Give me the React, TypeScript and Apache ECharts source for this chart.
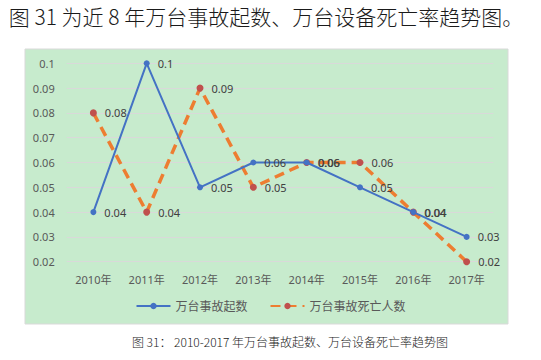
import React, { useEffect, useRef } from "react";
import * as echarts from "echarts";

const categories = ["2010年", "2011年", "2012年", "2013年", "2014年", "2015年", "2016年", "2017年"];
const accidentRate = [0.04, 0.1, 0.05, 0.06, 0.06, 0.05, 0.04, 0.03];
const deathRate = [0.08, 0.04, 0.09, 0.05, 0.06, 0.06, 0.04, 0.02];
const seriesNames = ["万台事故起数", "万台事故死亡人数"];
const titleText = "图 31 为近 8 年万台事故起数、万台设备死亡率趋势图。";
const captionText = "图 31： 2010-2017 年万台事故起数、万台设备死亡率趋势图";

const FONT = "'Noto Sans', 'Noto Sans CJK SC', sans-serif";

export default function App() {
  const ref = useRef<HTMLDivElement>(null);
  useEffect(() => {
    if (!ref.current) return;
    const chart = echarts.init(ref.current, null, { renderer: "svg" });
    const fmt = (v: number) => String(parseFloat(Number(v).toFixed(2)));
    chart.setOption({
      animation: false,
      backgroundColor: "#ffffff",
      textStyle: { fontFamily: FONT },
      graphic: [
        {
          type: "rect",
          z: -10,
          shape: { x: 25, y: 49, width: 483, height: 275 },
          style: { fill: "#C7EBCD", stroke: "#D9D9D9", lineWidth: 1 },
        },
        {
          type: "text",
          x: 266,
          y: 16,
          style: {
            text: titleText,
            fontSize: 21,
            fontWeight: 300,
            fontFamily: "'Noto Sans CJK SC', serif",
            fill: "#1a1a1a",
            textAlign: "center",
            textVerticalAlign: "middle",
          },
        },
        {
          type: "text",
          x: 290,
          y: 341,
          style: {
            text: captionText,
            fontSize: 12,
            fontWeight: 300,
            fontFamily: "'Noto Sans CJK SC', sans-serif",
            fill: "#1a1a1a",
            textAlign: "center",
            textVerticalAlign: "middle",
          },
        },
      ],
      grid: { left: 66.7, right: 47.7, top: 63.3, bottom: 98.3 },
      legend: {
        data: seriesNames,
        top: 295,
        left: "center",
        itemWidth: 34,
        itemHeight: 8,
        itemGap: 22,
        textStyle: { fontSize: 12, color: "#595959", fontFamily: FONT },
      },
      xAxis: {
        type: "category",
        data: categories,
        boundaryGap: true,
        axisLine: { show: false },
        axisTick: { show: false },
        axisLabel: { color: "#595959", fontSize: 11, margin: 12 },
      },
      yAxis: {
        type: "value",
        min: 0.02,
        max: 0.1,
        interval: 0.01,
        axisLine: { show: false },
        axisTick: { show: false },
        axisLabel: { color: "#595959", fontSize: 11, margin: 12, formatter: fmt },
        splitLine: { lineStyle: { color: "#D9D9D9", width: 1 } },
      },
      series: [
        {
          name: seriesNames[0],
          type: "line",
          data: accidentRate,
          symbol: "circle",
          symbolSize: 6,
          lineStyle: { color: "#4472C4", width: 2 },
          itemStyle: { color: "#4472C4" },
          label: {
            show: true,
            position: "right",
            distance: 8,
            color: "#404040",
            fontSize: 11,
            formatter: (p: any) => fmt(p.value),
          },
          z: 3,
        },
        {
          name: seriesNames[1],
          type: "line",
          data: deathRate,
          symbol: "circle",
          symbolSize: 7,
          lineStyle: { color: "#ED7D31", width: 3.5, type: [10, 6] },
          itemStyle: { color: "#C0504D" },
          label: {
            show: true,
            position: "right",
            distance: 8,
            color: "#404040",
            fontSize: 11,
            formatter: (p: any) => fmt(p.value),
          },
          z: 2,
        },
      ],
    });
    return () => chart.dispose();
  }, []);
  return (
    <div
      ref={ref}
      style={{ position: "absolute", left: 0, top: 0, width: 541, height: 360 }}
    />
  );
}
